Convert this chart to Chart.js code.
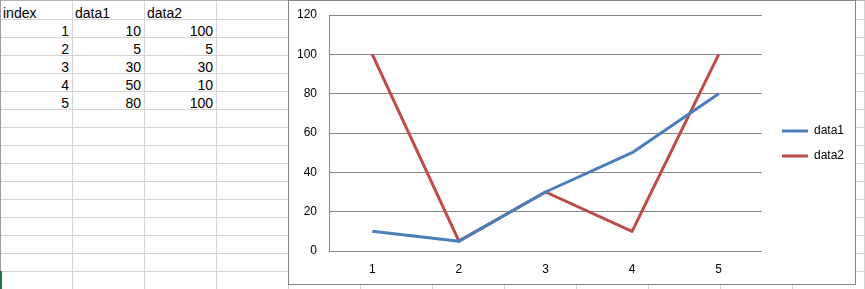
<!DOCTYPE html>
<html>
<head>
<meta charset="utf-8">
<script src="https://cdn.jsdelivr.net/npm/chart.js@4/dist/chart.umd.min.js"></script>
<style>
  html, body { margin: 0; padding: 0; background: #ffffff; }
  body { width: 865px; height: 289px; position: relative; overflow: hidden; font-family: "Liberation Sans", Arial, sans-serif; }
  .vl { position: absolute; top: 0; width: 1px; height: 289px; background: #d4d4d4; }
  .hl { position: absolute; left: 0; height: 1px; width: 865px; background: #d4d4d4; }
  .cell { position: absolute; height: 14px; line-height: 18px; font-size: 14px; color: #000; white-space: nowrap; }
  #frame { position: absolute; left: 288px; top: 0px; width: 566px; height: 283px; border: 1px solid #868686; background: #ffffff; }
  #wrap { position: absolute; left: 0; top: 0; width: 566px; height: 283px; }
</style>
</head>
<body>
<div id="sheet"></div>
<div id="frame"><div id="wrap"><canvas id="c"></canvas></div></div>
<script>
// ---- data ----
const headers = ['index', 'data1', 'data2'];
const categories = ['1', '2', '3', '4', '5'];
const data1 = [10, 5, 30, 50, 80];
const data2 = [100, 5, 30, 10, 100];
const yTickValues = [0, 20, 40, 60, 80, 100, 120];

// ---- spreadsheet background ----
const sheet = document.getElementById('sheet');
const COLW = 72, ROWH = 18, FIRST = 19;
for (let k = 1; k <= 12; k++) {
  const d = document.createElement('div'); d.className = 'vl'; d.style.left = (COLW * k) + 'px'; sheet.appendChild(d);
}
for (let k = 0; k <= 15; k++) {
  const d = document.createElement('div'); d.className = 'hl'; d.style.top = (FIRST + ROWH * k) + 'px'; sheet.appendChild(d);
}
(function(){
  const top = document.createElement('div'); top.className = 'hl'; top.style.top = '0px'; top.style.background = '#b4b4b4'; sheet.appendChild(top);
  const left = document.createElement('div'); left.className = 'vl'; left.style.left = '0px'; left.style.background = '#9e9e9e'; left.style.height = '271px'; sheet.appendChild(left);
  const green = document.createElement('div'); green.style.cssText = 'position:absolute;left:0;top:271px;width:2px;height:18px;background:#217346;'; sheet.appendChild(green);
})();
function addCell(text, col, row, right) {
  const d = document.createElement('div'); d.className = 'cell';
  const lineY = FIRST + ROWH * row;
  d.style.top = (lineY - 15) + 'px';
  if (right) { d.style.left = (COLW * col) + 'px'; d.style.width = (COLW - 3) + 'px'; d.style.textAlign = 'right'; }
  else { d.style.left = (COLW * col + 3) + 'px'; }
  d.textContent = text;
  sheet.appendChild(d);
}
headers.forEach((h, i) => addCell(h, i, 0, false));
categories.forEach((c, r) => {
  addCell(c, 0, r + 1, true);
  addCell(String(data1[r]), 1, r + 1, true);
  addCell(String(data2[r]), 2, r + 1, true);
});

// ---- chart ----
const GRID = '#868686';
const shiftLegend = {
  id: 'shiftLegend',
  afterLayout(chart) {
    const lg = chart.legend;
    if (lg) { lg.left += 7; lg.right += 7; lg.top -= 6; lg.bottom -= 6; }
  }
};
new Chart(document.getElementById('c'), {
  type: 'line',
  data: {
    labels: categories,
    datasets: [
      { label: 'data1', data: data1, borderColor: '#4a7ebb', backgroundColor: '#4a7ebb', borderWidth: 3, pointRadius: 0, tension: 0, borderJoinStyle: 'round', fill: false },
      { label: 'data2', data: data2, borderColor: '#be4b48', backgroundColor: '#be4b48', borderWidth: 3, pointRadius: 0, tension: 0, borderJoinStyle: 'round', fill: false }
    ]
  },
  options: {
    responsive: true,
    maintainAspectRatio: false,
    animation: false,
    devicePixelRatio: 1,
    layout: { padding: { top: 14, right: 8, bottom: 0, left: 0 } },
    plugins: {
      tooltip: { enabled: false },
      legend: {
        position: 'right',
        maxWidth: 93,
        labels: {
          boxWidth: 26,
          boxHeight: 3,
          padding: 13,
          color: '#000000',
          font: { family: '"Liberation Sans", Arial, sans-serif', size: 12 },
          generateLabels(chart) {
            return chart.data.datasets.map((ds, i) => ({
              text: ds.label, fillStyle: ds.borderColor, strokeStyle: ds.borderColor,
              lineWidth: 0, hidden: false, datasetIndex: i, fontColor: '#000000'
            }));
          }
        }
      }
    },
    scales: {
      x: {
        offset: true,
        grid: { display: false, drawTicks: false },
        border: { display: true, color: GRID, width: 1 },
        ticks: { color: '#000000', padding: 11, font: { family: '"Liberation Sans", Arial, sans-serif', size: 12 }, maxRotation: 0 },
        afterFit(scale) { scale.height = 33; scale.paddingLeft = 0; scale.paddingRight = 0; }
      },
      y: {
        min: 0, max: 120,
        afterBuildTicks(scale) { scale.ticks = yTickValues.map(v => ({ value: v })); },
        grid: { color: GRID, lineWidth: 1, drawTicks: false },
        border: { display: true, color: GRID, width: 1 },
        ticks: { color: '#000000', padding: 12, font: { family: '"Liberation Sans", Arial, sans-serif', size: 12 } },
        afterFit(scale) { scale.width = 40; scale.paddingTop = 0; scale.paddingBottom = 0; }
      }
    }
  },
  plugins: [shiftLegend]
});
</script>
</body>
</html>
